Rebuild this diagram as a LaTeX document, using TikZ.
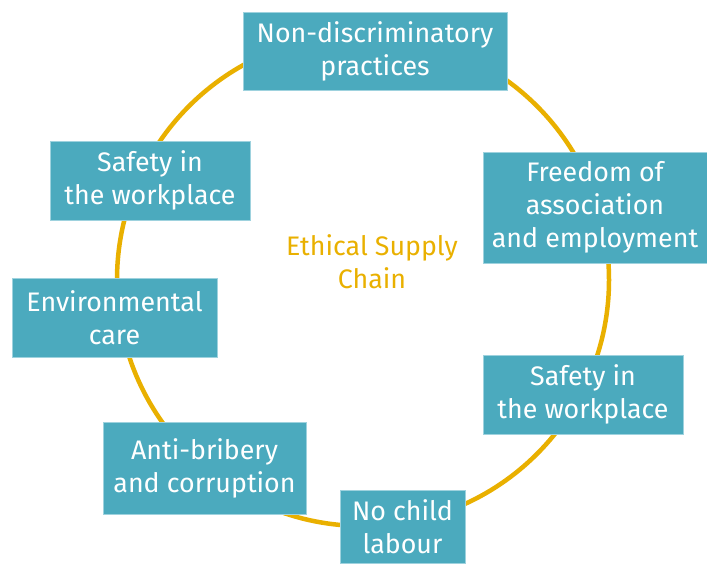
\documentclass[tikz,border=0pt]{standalone}
\usepackage{fontspec}
\setmainfont{Fira Sans}
\usepackage{color}
\definecolor{boxteal}{HTML}{4BAABE}
\definecolor{boxedge}{HTML}{9ED2DE}
\definecolor{ringgold}{HTML}{E9B000}

\begin{document}
\begin{tikzpicture}[x=1pt, y=-1pt,
	topic/.style={fill=boxteal, draw=boxedge, line width=0.8pt, text=white,
		align=center, inner sep=0pt, font=\fontsize{26.8}{33}\selectfont},
	hubtext/.style={text=ringgold, align=center, font=\fontsize{26.8}{33}\selectfont}]
	\useasboundingbox (0,0) rectangle (707,563);
		\coordinate (hub) at (363,280);
		\draw [ringgold, line width=4.5pt] (hub) circle (246);
		\node [hubtext] (ethical) at (372,262) {Ethical Supply\\Chain};
		\node [topic, minimum width=264, minimum height=78] (nondisc) at (375,51)
			{Non-discriminatory\\practices};
		\node [topic, minimum width=224, minimum height=111] (freedom) at (595,207.5)
			{Freedom of\\association\\and employment};
		\node [topic, minimum width=200, minimum height=79] (safetyR) at (583,394.5)
			{Safety in\\the workplace};
		\node [topic, minimum width=125, minimum height=73] (child) at (402.5,526.5)
			{No child\\labour};
		\node [topic, minimum width=203, minimum height=92] (bribery) at (204.5,468)
			{Anti-bribery\\and corruption};
		\node [topic, minimum width=205, minimum height=79] (environ) at (114.5,317.5)
			{Environmental\\care};
		\node [topic, minimum width=200, minimum height=79] (safetyL) at (150,180.5)
			{Safety in\\the workplace};
	\end{tikzpicture}
\end{document}
